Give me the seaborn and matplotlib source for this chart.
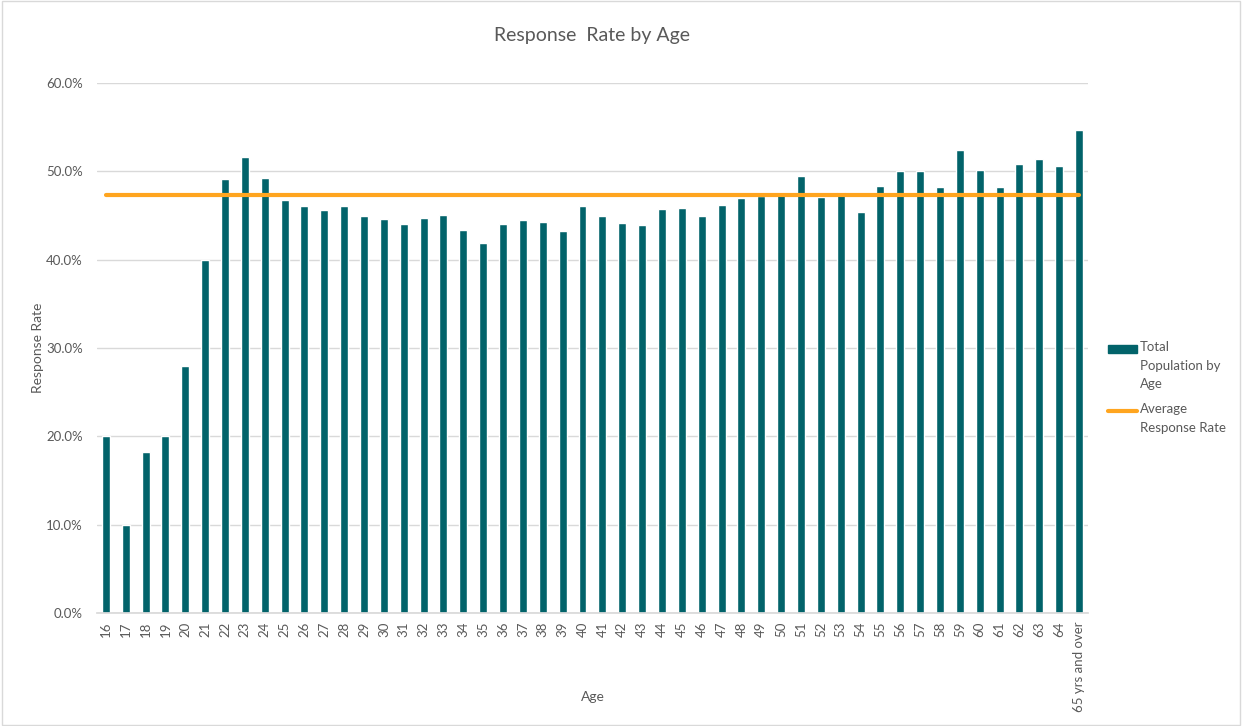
import numpy as np
import pandas as pd
import seaborn as sns
import matplotlib.pyplot as plt
import matplotlib.patches as patches
from matplotlib.lines import Line2D
from matplotlib.ticker import PercentFormatter

ages = [str(a) for a in range(16, 65)] + ["65 yrs and over"]
response_rate = [
    20.0, 10.0, 18.2, 20.0, 28.0, 40.0, 49.1, 51.6, 49.2, 46.8,
    46.1, 45.6, 46.1, 44.9, 44.6, 44.0, 44.7, 45.1, 43.4, 41.9,
    44.0, 44.5, 44.3, 43.3, 46.1, 44.9, 44.1, 43.9, 45.7, 45.8,
    44.9, 46.2, 47.0, 47.2, 47.6, 49.5, 47.1, 47.7, 45.4, 48.4,
    50.1, 50.1, 48.2, 52.4, 50.2, 48.2, 50.8, 51.4, 50.6, 54.7,
]
avg_rate = [47.3] * len(ages)
legend_labels = ["Total\nPopulation by\nAge", "Average\nResponse Rate"]

teal = "#02636A"
orange = "#FFA51F"
grey_text = "#595959"
grid_col = "#D9D9D9"

sns.set_theme(style="white")
plt.rcParams["font.family"] = ["Lato", "DejaVu Sans"]

df = pd.DataFrame({"age": ages, "rate": response_rate, "avg": avg_rate})
df["pos"] = np.arange(len(df))

W, H = 1242, 726
fig = plt.figure(figsize=(W / 100, H / 100), dpi=100)
ax = fig.add_axes([0.078, 0.1556, 0.798, 0.730])

sns.barplot(data=df, x="age", y="rate", order=ages, color=teal,
            width=0.4, saturation=1, ax=ax, zorder=2)
sns.lineplot(data=df, x="pos", y="avg", color=orange, linewidth=3,
             ax=ax, zorder=3)

ax.set_ylim(0, 60)
ax.set_xlim(-0.45, len(ages) - 0.55)
ax.set_yticks(np.arange(0, 61, 10))
ax.yaxis.set_major_formatter(PercentFormatter(xmax=100, decimals=1))
ax.yaxis.grid(True, color=grid_col, linewidth=1)
ax.set_axisbelow(True)
for side in ["top", "right", "left"]:
    ax.spines[side].set_visible(False)
ax.spines["bottom"].set_color(grid_col)
ax.tick_params(axis="both", length=0, colors=grey_text, labelsize=9.5)
ax.tick_params(axis="x", rotation=90, pad=6)
ax.tick_params(axis="y", pad=10)

ax.set_xlabel("Age", color=grey_text, fontsize=10)
ax.set_ylabel("Response Rate", color=grey_text, fontsize=10)
ax.xaxis.set_label_coords(0.5, -0.148)
ax.yaxis.set_label_coords(-0.053, 0.5)
ax.set_title("Response  Rate by Age", color=grey_text, fontsize=14, pad=30)

# legend drawn by hand so the keys sit on the first text line, as in the reference
def fy(py):
    return 1 - py / H

fig.add_artist(patches.Rectangle((1108 / W, fy(352.5)), 29 / W, 7.5 / H,
                                 transform=fig.transFigure, color=teal))
fig.add_artist(Line2D([1108 / W, 1137 / W], [fy(411), fy(411)],
                      transform=fig.transFigure, color=orange, linewidth=3))
fig.text(1140 / W, fy(341), legend_labels[0], color=grey_text, fontsize=9.5,
         va="top", ha="left", linespacing=1.65)
fig.text(1140 / W, fy(403), legend_labels[1], color=grey_text, fontsize=9.5,
         va="top", ha="left", linespacing=1.65)

fig.patches.append(patches.Rectangle((0.002, 0.002), 0.996, 0.996, transform=fig.transFigure,
                                     fill=False, edgecolor=grid_col, linewidth=1))

fig.savefig("out.png", dpi=100)
